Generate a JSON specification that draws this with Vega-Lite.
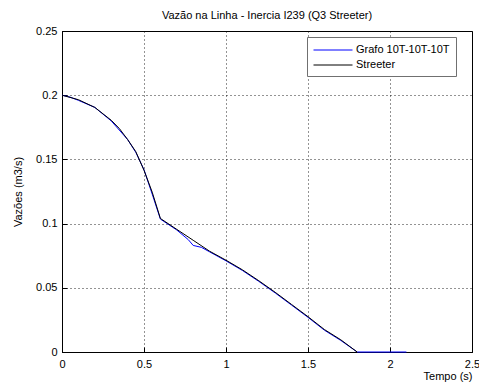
{
  "$schema": "https://vega.github.io/schema/vega-lite/v6.json",
  "width": 410,
  "height": 321,
  "autosize": {"type": "none"},
  "padding": {"left": 62, "top": 31, "right": 7, "bottom": 37},
  "background": "white",
  "title": {
    "text": "Vazão na Linha - Inercia I239 (Q3 Streeter)",
    "font": "Liberation Sans",
    "fontSize": 11,
    "fontWeight": "normal",
    "color": "#000000",
    "offset": 4
  },
  "config": {
    "view": {"stroke": "#000000", "strokeWidth": 1},
    "font": "Liberation Sans",
    "axis": {
      "labelFont": "Liberation Sans",
      "labelFontSize": 11,
      "labelColor": "#000000",
      "titleFont": "Liberation Sans",
      "titleFontSize": 11,
      "titleFontWeight": "normal",
      "titleColor": "#000000",
      "domainColor": "#000000",
      "tickColor": "#000000",
      "gridColor": "#000000",
      "gridDash": [1, 3],
      "gridOpacity": 0.85
    }
  },
  "data": {
    "values": [
      {"t": 0.0, "q": 0.2, "s": "Grafo 10T-10T-10T"},
      {"t": 0.05, "q": 0.1985, "s": "Grafo 10T-10T-10T"},
      {"t": 0.1, "q": 0.196, "s": "Grafo 10T-10T-10T"},
      {"t": 0.2, "q": 0.1905, "s": "Grafo 10T-10T-10T"},
      {"t": 0.3, "q": 0.18, "s": "Grafo 10T-10T-10T"},
      {"t": 0.4, "q": 0.1655, "s": "Grafo 10T-10T-10T"},
      {"t": 0.45, "q": 0.1555, "s": "Grafo 10T-10T-10T"},
      {"t": 0.5, "q": 0.142, "s": "Grafo 10T-10T-10T"},
      {"t": 0.55, "q": 0.123, "s": "Grafo 10T-10T-10T"},
      {"t": 0.6, "q": 0.1035, "s": "Grafo 10T-10T-10T"},
      {"t": 0.7, "q": 0.095, "s": "Grafo 10T-10T-10T"},
      {"t": 0.77, "q": 0.0875, "s": "Grafo 10T-10T-10T"},
      {"t": 0.8, "q": 0.083, "s": "Grafo 10T-10T-10T"},
      {"t": 0.85, "q": 0.0815, "s": "Grafo 10T-10T-10T"},
      {"t": 0.9, "q": 0.078, "s": "Grafo 10T-10T-10T"},
      {"t": 1.0, "q": 0.071, "s": "Grafo 10T-10T-10T"},
      {"t": 1.1, "q": 0.0635, "s": "Grafo 10T-10T-10T"},
      {"t": 1.2, "q": 0.055, "s": "Grafo 10T-10T-10T"},
      {"t": 1.3, "q": 0.046, "s": "Grafo 10T-10T-10T"},
      {"t": 1.4, "q": 0.0365, "s": "Grafo 10T-10T-10T"},
      {"t": 1.5, "q": 0.027, "s": "Grafo 10T-10T-10T"},
      {"t": 1.6, "q": 0.017, "s": "Grafo 10T-10T-10T"},
      {"t": 1.7, "q": 0.009, "s": "Grafo 10T-10T-10T"},
      {"t": 1.8, "q": 0.0, "s": "Grafo 10T-10T-10T"},
      {"t": 2.0, "q": 0.0, "s": "Grafo 10T-10T-10T"},
      {"t": 2.1, "q": 0.0, "s": "Grafo 10T-10T-10T"},
      {"t": 0.0, "q": 0.2, "s": "Streeter"},
      {"t": 0.1, "q": 0.1965, "s": "Streeter"},
      {"t": 0.2, "q": 0.1905, "s": "Streeter"},
      {"t": 0.3, "q": 0.1805, "s": "Streeter"},
      {"t": 0.35, "q": 0.174, "s": "Streeter"},
      {"t": 0.4, "q": 0.1655, "s": "Streeter"},
      {"t": 0.45, "q": 0.156, "s": "Streeter"},
      {"t": 0.5, "q": 0.1415, "s": "Streeter"},
      {"t": 0.55, "q": 0.1245, "s": "Streeter"},
      {"t": 0.6, "q": 0.104, "s": "Streeter"},
      {"t": 0.7, "q": 0.0955, "s": "Streeter"},
      {"t": 0.8, "q": 0.087, "s": "Streeter"},
      {"t": 0.9, "q": 0.0785, "s": "Streeter"},
      {"t": 1.0, "q": 0.0715, "s": "Streeter"},
      {"t": 1.1, "q": 0.064, "s": "Streeter"},
      {"t": 1.2, "q": 0.0555, "s": "Streeter"},
      {"t": 1.3, "q": 0.0465, "s": "Streeter"},
      {"t": 1.4, "q": 0.037, "s": "Streeter"},
      {"t": 1.5, "q": 0.0275, "s": "Streeter"},
      {"t": 1.6, "q": 0.0175, "s": "Streeter"},
      {"t": 1.7, "q": 0.0095, "s": "Streeter"},
      {"t": 1.8, "q": 0.0, "s": "Streeter"}
    ]
  },
  "layer": [
    {
      "mark": {"type": "line", "strokeWidth": 1},
      "encoding": {
        "x": {
          "field": "t", "type": "quantitative",
          "scale": {"domain": [0, 2.5], "nice": false, "zero": false},
          "axis": {
            "title": "Tempo (s)", "titleAnchor": "end", "titlePadding": 1,
            "values": [0, 0.5, 1, 1.5, 2, 2.5], "format": "~g",
            "grid": true, "tickSize": -5, "labelPadding": 11,
            "labelFlush": false
          }
        },
        "y": {
          "field": "q", "type": "quantitative",
          "scale": {"domain": [0, 0.25], "nice": false, "zero": false},
          "axis": {
            "title": "Vazões (m3/s)", "titlePadding": 12,
            "values": [0, 0.05, 0.1, 0.15, 0.2, 0.25], "format": "~g",
            "grid": true, "tickSize": -5, "labelPadding": 10,
            "labelFlush": false
          }
        },
        "color": {
          "field": "s", "type": "nominal",
          "scale": {"domain": ["Grafo 10T-10T-10T", "Streeter"], "range": ["#0000FF", "#000000"]},
          "legend": {
            "title": null,
            "orient": "none",
            "legendX": 245,
            "legendY": 6,
            "symbolType": "M-1,0H5",
            "symbolSize": 169,
            "symbolStrokeWidth": 1,
            "labelFont": "Liberation Sans",
            "labelFontSize": 11,
            "labelColor": "#000000",
            "labelOffset": 29,
            "rowPadding": 3,
            "padding": 6,
            "strokeColor": "#707070",
            "fillColor": "#FFFFFF",
            "cornerRadius": 0
          }
        }
      }
    }
  ]
}
